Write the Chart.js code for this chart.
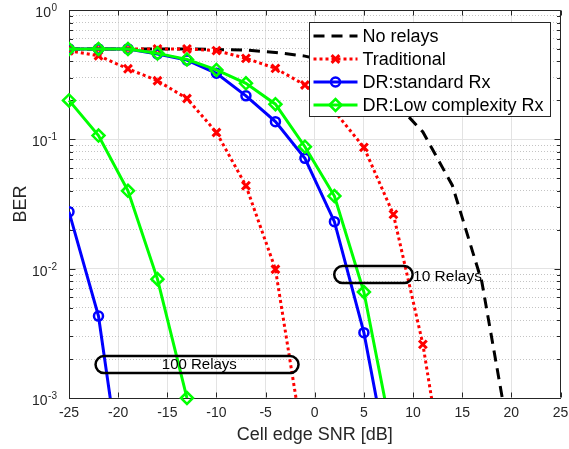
<!DOCTYPE html>
<html>
<head>
<meta charset="utf-8">
<script src="https://cdn.jsdelivr.net/npm/chart.js@4.4.1/dist/chart.umd.min.js"></script>
<style>
  html, body { margin: 0; padding: 0; background: #fff; }
</style>
</head>
<body>
<canvas id="berChart" width="569" height="449"></canvas>
<script>
// SNR points (dB), 3 dB apart
const snr = [-25, -22, -19, -16, -13, -10, -7, -4, -1, 2, 5, 8, 11, 14, 17, 20];

// BER curves (values under 1e-3 only carry the line to the bottom edge)
const berNoRelays = [0.5, 0.5, 0.5, 0.5, 0.5, 0.495, 0.49, 0.47, 0.44, 0.39, 0.31, 0.2, 0.114, 0.044, 0.0079, 0.0004];
const berTrad10   = [0.5, 0.5, 0.5, 0.5, 0.5, 0.485, 0.423, 0.354, 0.263, 0.165, 0.0867, 0.0263, 0.0026, 0.0001];
const berTrad100  = [0.484, 0.443, 0.351, 0.284, 0.207, 0.113, 0.0438, 0.0099, 0.00037];
const berStd10    = [0.5, 0.5, 0.5, 0.457, 0.41, 0.324, 0.217, 0.137, 0.0713, 0.0231, 0.0032, 0.0002];
const berStd100   = [0.0275, 0.0043, 0.00011];
const berLow10    = [0.5, 0.5, 0.5, 0.462, 0.415, 0.344, 0.271, 0.187, 0.0877, 0.0364, 0.0066, 0.00045];
const berLow100   = [0.2, 0.107, 0.04, 0.0083, 0.001];

const legendLabels = ['No relays', 'Traditional', 'DR:standard Rx', 'DR:Low complexity Rx'];
const xTicks = [-25, -20, -15, -10, -5, 0, 5, 10, 15, 20, 25];
const yMajor = [0.001, 0.01, 0.1, 1];
const yExp = ['-3', '-2', '-1', '0'];

function pts(ys) {
    return ys.map((v, i) => ({ x: snr[i], y: v }));
}

// minor ticks 2..9 in every decade
const yMinor = [];
yMajor.slice(0, -1).forEach(d => {
    for (let k = 2; k <= 9; k++) yMinor.push(d * k);
});

const isMajor = v => Math.abs(Math.log10(v) - Math.round(Math.log10(v))) < 1e-6;

const styNo = { borderColor: '#000', borderDash: [11, 7], borderWidth: 3, pointRadius: 0, order: 4 };
const styTrad = {
    borderColor: '#ff0000', borderDash: [3, 3], borderWidth: 3, order: 3,
    pointStyle: 'crossRot', pointRadius: 5.5, pointBorderWidth: 3,
    pointBorderColor: '#ff0000', pointBackgroundColor: 'rgba(0,0,0,0)'
};
const styStd = {
    borderColor: '#0000ff', borderWidth: 3, order: 2,
    pointStyle: 'circle', pointRadius: 4.5, pointBorderWidth: 2.5,
    pointBorderColor: '#0000ff', pointBackgroundColor: 'rgba(0,0,0,0)'
};
const styLow = {
    borderColor: '#00ff00', borderWidth: 3, order: 1,
    pointStyle: 'rectRot', pointRadius: 6, pointBorderWidth: 2.5,
    pointBorderColor: '#00ff00', pointBackgroundColor: 'rgba(0,0,0,0)'
};

const datasets = [
    Object.assign({ label: legendLabels[0], data: pts(berNoRelays) }, styNo),
    Object.assign({ label: legendLabels[1], data: pts(berTrad10) }, styTrad),
    Object.assign({ label: legendLabels[1], data: pts(berTrad100), inLegend: false }, styTrad),
    Object.assign({ label: legendLabels[2], data: pts(berStd10) }, styStd),
    Object.assign({ label: legendLabels[2], data: pts(berStd100), inLegend: false }, styStd),
    Object.assign({ label: legendLabels[3], data: pts(berLow10) }, styLow),
    Object.assign({ label: legendLabels[3], data: pts(berLow100), inLegend: false, clip: false }, styLow)
];
datasets.forEach(d => { d.tension = 0; d.fill = false; });

const axisColor = '#262626';
const fontFamily = 'Arial, "Liberation Sans", Helvetica, sans-serif';

// box, inward ticks (matlab style)
const framePlugin = {
    id: 'frame',
    beforeDatasetsDraw(chart) {
        const { ctx, chartArea: a, scales: { x, y } } = chart;
        ctx.save();
        ctx.strokeStyle = axisColor;
        ctx.lineWidth = 1;
        ctx.beginPath();
        const L = Math.round(a.left) + 0.5, R = Math.round(a.right) - 0.5;
        const T = Math.round(a.top) + 0.5, B = Math.round(a.bottom) - 0.5;
        ctx.moveTo(L, T); ctx.lineTo(R, T); ctx.lineTo(R, B);
        xTicks.forEach(v => {
            const px = Math.round(x.getPixelForValue(v)) + 0.5;
            ctx.moveTo(px, B); ctx.lineTo(px, B - 5);
            ctx.moveTo(px, T); ctx.lineTo(px, T + 5);
        });
        yMajor.concat(yMinor).forEach(v => {
            const py = Math.round(y.getPixelForValue(v)) + 0.5;
            const len = isMajor(v) ? 6 : 3.5;
            ctx.moveTo(L, py); ctx.lineTo(L + len, py);
            ctx.moveTo(R, py); ctx.lineTo(R - len, py);
        });
        ctx.stroke();
        ctx.restore();
    },
    afterDraw(chart) {
        const { ctx, chartArea: a, scales: { x, y } } = chart;
        ctx.save();
        // y tick labels 10^n
        ctx.fillStyle = axisColor;
        ctx.textAlign = 'right';
        ctx.textBaseline = 'alphabetic';
        yMajor.forEach((v, i) => {
            const py = y.getPixelForValue(v);
            const right = a.left - 12;
            ctx.font = '10px ' + fontFamily;
            const w = ctx.measureText(yExp[i]).width;
            ctx.fillText(yExp[i], right, py + 1);
            ctx.font = '14px ' + fontFamily;
            ctx.fillText('10', right - w - 0.5, py + 7);
        });

        // relay annotations
        ctx.strokeStyle = '#000';
        ctx.lineWidth = 2.5;
        const pill = (x0, x1, y0, y1) => {
            const l = x.getPixelForValue(x0), r = x.getPixelForValue(x1);
            const t = y.getPixelForValue(y0), b = y.getPixelForValue(y1);
            const rad = (b - t) / 2;
            ctx.beginPath();
            ctx.moveTo(l + rad, t);
            ctx.lineTo(r - rad, t);
            ctx.arc(r - rad, t + rad, rad, -Math.PI / 2, Math.PI / 2);
            ctx.lineTo(l + rad, b);
            ctx.arc(l + rad, t + rad, rad, Math.PI / 2, Math.PI * 1.5);
            ctx.closePath();
            ctx.stroke();
        };
        pill(-22.3, -1.65, 0.00211, 0.00156);
        pill(1.98, 9.96, 0.01047, 0.00774);
        ctx.fillStyle = '#000';
        ctx.font = '15px ' + fontFamily;
        ctx.textBaseline = 'middle';
        ctx.textAlign = 'center';
        ctx.fillText('100 Relays', x.getPixelForValue(-11.74), y.getPixelForValue(0.0018));
        ctx.textAlign = 'left';
        ctx.font = '15.5px ' + fontFamily;
        ctx.fillText('10 Relays', x.getPixelForValue(10.0), y.getPixelForValue(0.0086));

        // legend box
        const items = chart.data.datasets.filter(d => d.inLegend !== false);
        const bw = 241, bh = 94;
        const bx = Math.round(a.right - 11 - bw) + 0.5, by = Math.round(a.top + 12) + 0.5;
        ctx.fillStyle = '#fff';
        ctx.fillRect(bx, by, bw, bh);
        ctx.strokeStyle = axisColor;
        ctx.lineWidth = 1;
        ctx.strokeRect(bx, by, bw, bh);
        items.forEach((d, i) => {
            const cy = by + 13.5 + i * 23;
            ctx.save();
            ctx.strokeStyle = d.borderColor;
            ctx.lineWidth = d.borderWidth;
            ctx.setLineDash(d.borderDash || []);
            ctx.beginPath();
            ctx.moveTo(bx + 4, cy);
            ctx.lineTo(bx + 48, cy);
            ctx.stroke();
            ctx.setLineDash([]);
            if (d.pointRadius > 0) {
                ctx.strokeStyle = d.pointBorderColor;
                ctx.fillStyle = 'rgba(0,0,0,0)';
                ctx.lineWidth = d.pointBorderWidth;
                Chart.helpers.drawPoint(ctx, {
                    pointStyle: d.pointStyle, radius: d.pointRadius,
                    rotation: 0, borderWidth: d.pointBorderWidth
                }, bx + 26, cy);
            }
            ctx.restore();
            ctx.fillStyle = '#000';
            ctx.font = '18px ' + fontFamily;
            ctx.textAlign = 'left';
            ctx.textBaseline = 'middle';
            ctx.fillText(d.label, bx + 53, cy + 1);
        });
        ctx.restore();
    }
};

const ctxBer = document.getElementById('berChart').getContext('2d');
new Chart(ctxBer, {
    type: 'line',
    data: { datasets: datasets },
    options: {
        responsive: false,
        animation: false,
        layout: { padding: { top: 10, right: 0, left: 0, bottom: 0 } },
        plugins: {
            legend: { display: false },
            tooltip: { enabled: false }
        },
        scales: {
            x: {
                type: 'linear',
                min: -25,
                max: 25,
                afterBuildTicks: s => { s.ticks = xTicks.map(v => ({ value: v })); },
                afterFit: s => {
                    s.height = 51;
                    s.paddingLeft = 0;
                    s.paddingRight = 8;
                },
                grid: { color: '#e3e3e3', drawTicks: false },
                border: { color: axisColor, width: 1 },
                ticks: {
                    color: axisColor,
                    padding: 7,
                    maxRotation: 0,
                    font: { family: fontFamily, size: 14 }
                },
                title: {
                    display: true,
                    text: 'Cell edge SNR [dB]',
                    color: axisColor,
                    font: { family: fontFamily, size: 18 },
                    padding: { top: 0, bottom: 3 }
                }
            },
            y: {
                type: 'logarithmic',
                min: 0.001,
                max: 1,
                afterBuildTicks: s => {
                    s.ticks = yMajor.concat(yMinor).sort((a, b) => a - b).map(v => ({ value: v }));
                },
                afterFit: s => { s.width = 69; },
                grid: {
                    drawTicks: false,
                    color: c => isMajor(c.tick.value) ? '#e3e3e3' : '#c4c4c4'
                },
                border: {
                    color: axisColor,
                    width: 1,
                    dash: c => isMajor(c.tick.value) ? [] : [1, 2]
                },
                ticks: { display: false },
                title: {
                    display: true,
                    text: 'BER',
                    color: axisColor,
                    font: { family: fontFamily, size: 18 },
                    padding: { top: 10, bottom: 0 }
                }
            }
        }
    },
    plugins: [framePlugin]
});
</script>
</body>
</html>
